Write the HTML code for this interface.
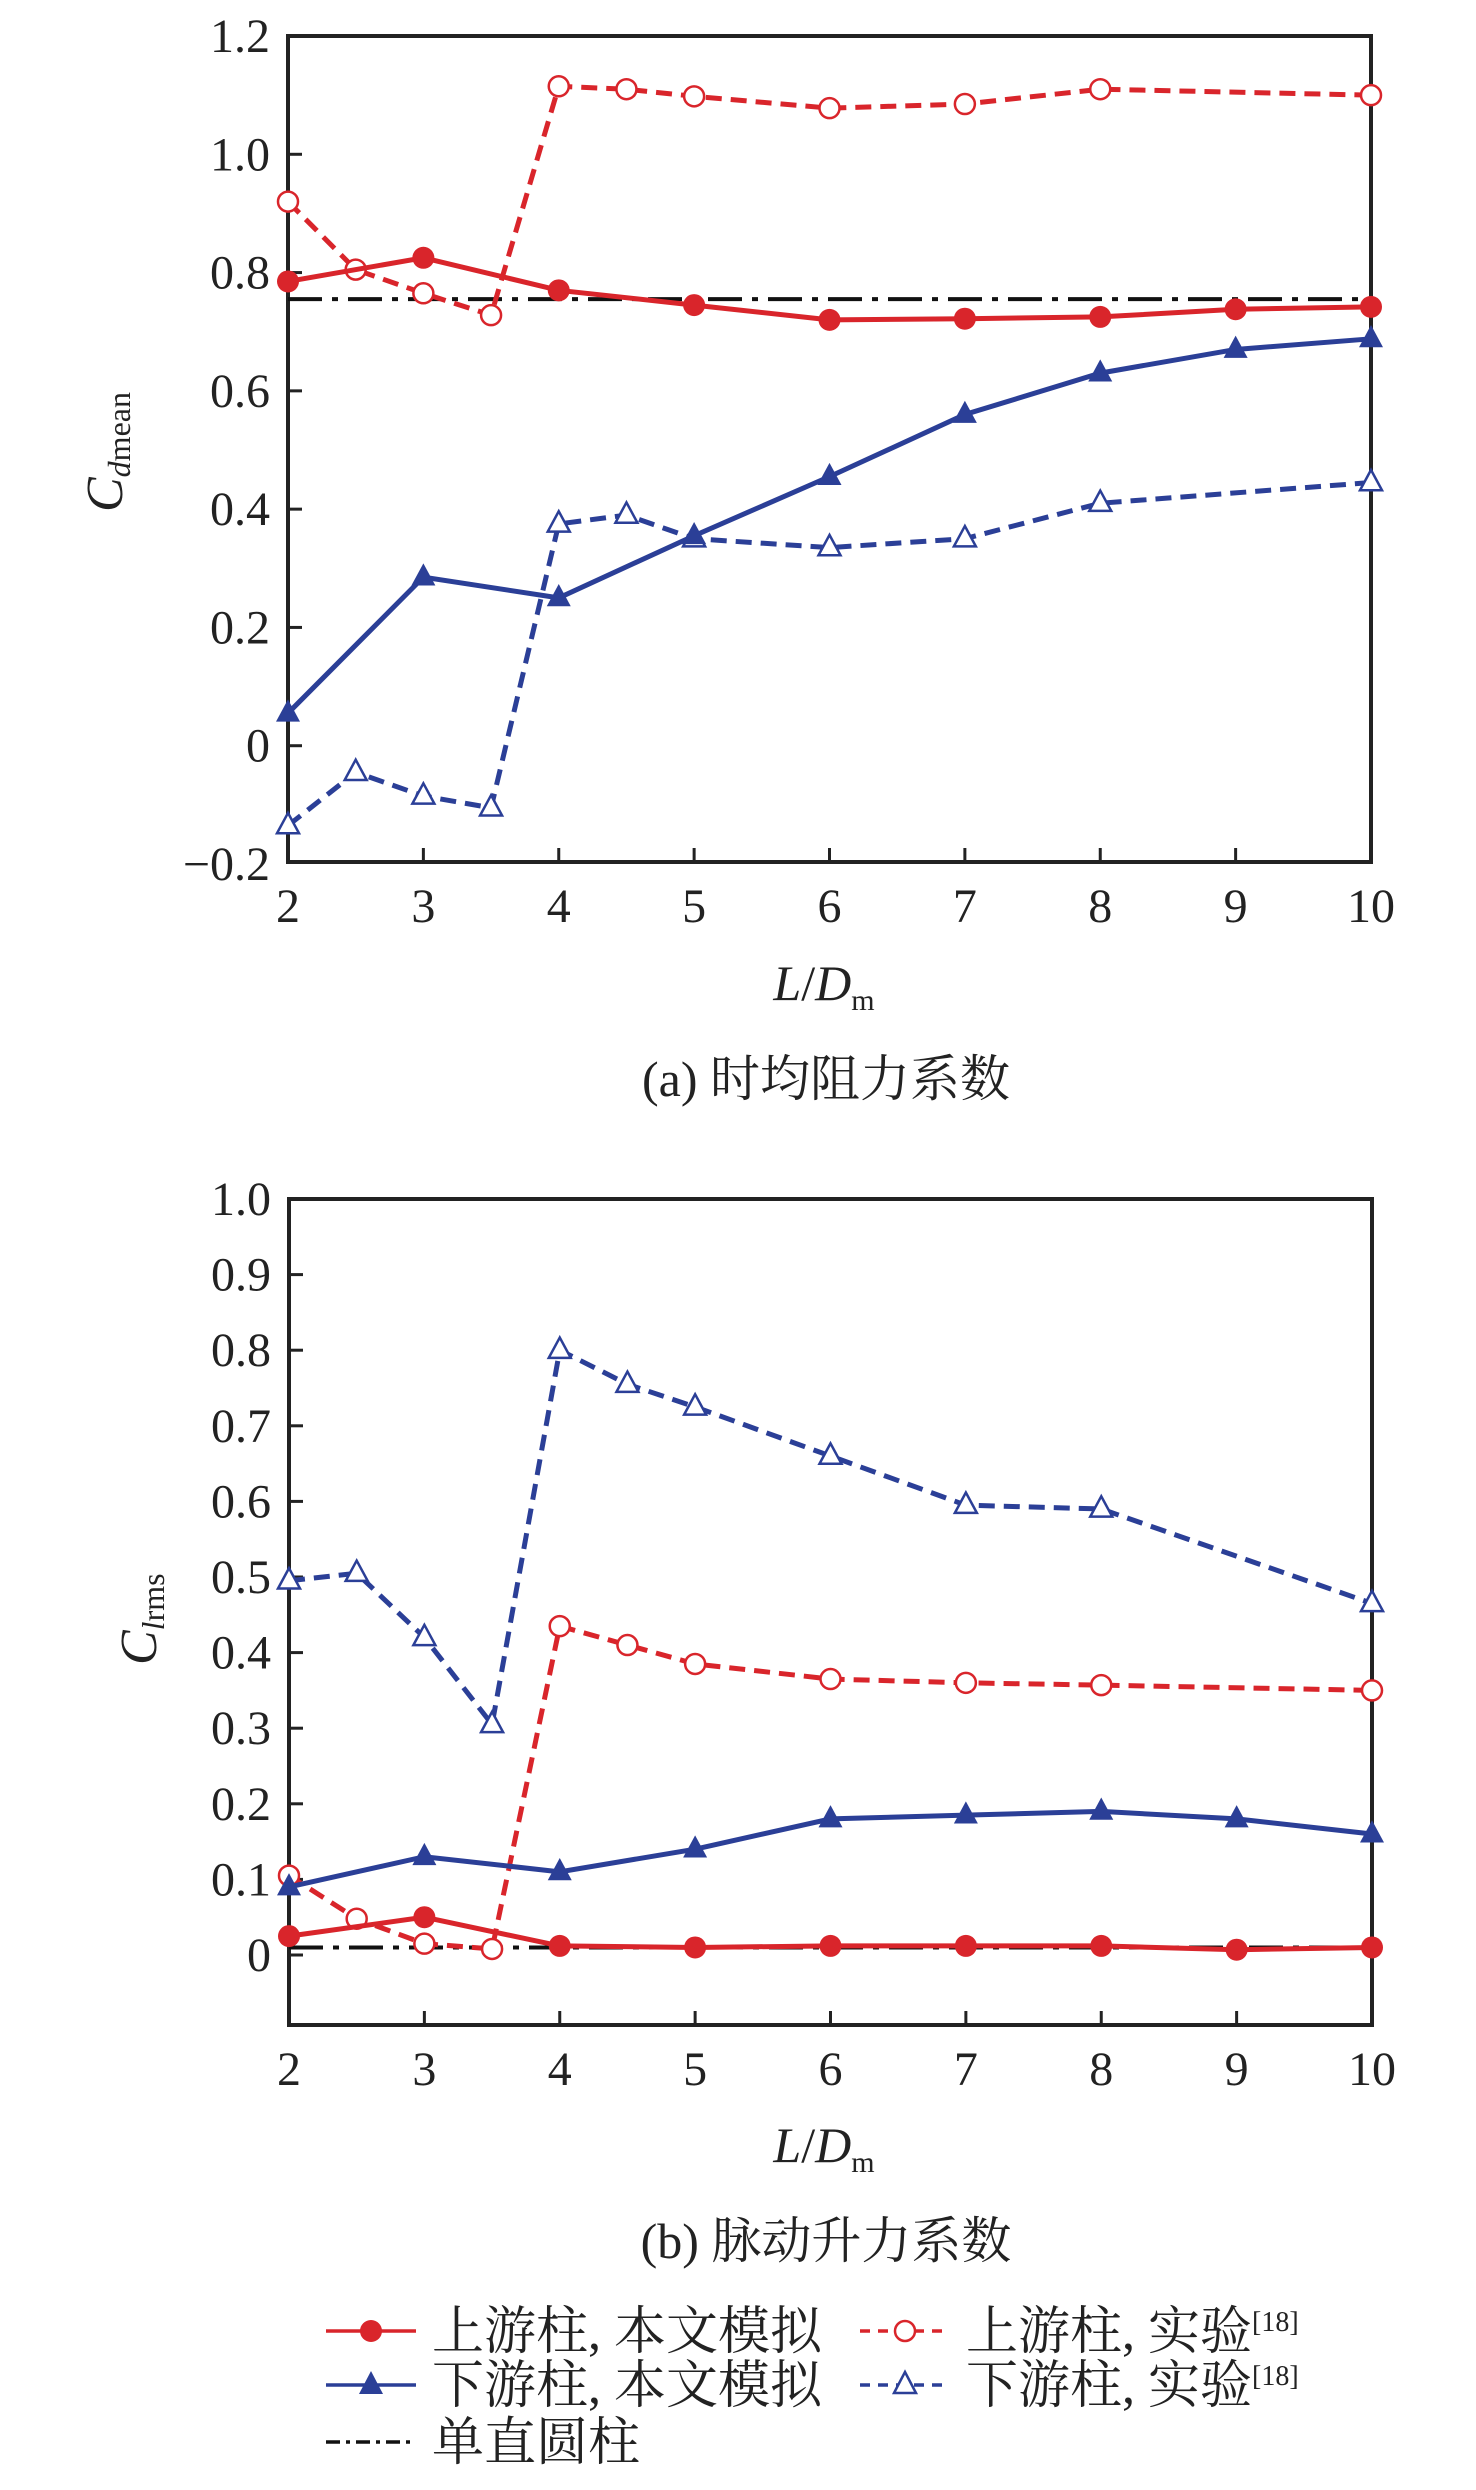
<!DOCTYPE html>
<html><head><meta charset="utf-8"><style>
html,body{margin:0;padding:0;background:#fff;}
svg{display:block;}
text{font-family:"Liberation Serif","Noto Serif CJK SC",serif;fill:#222;}
.cjk{font-family:"Liberation Serif","Noto Serif CJK SC",serif;}
</style></head><body>
<svg id="svg" width="1476" height="2490" viewBox="0 0 1476 2490" xmlns="http://www.w3.org/2000/svg">
<g id="ga"></g>
<g id="gb"></g>
<g id="legend"></g>
</svg>
<script>
const xsSim = [2,3,4,5,6,7,8,9,10];
const xsExp = [2,2.5,3,3.5,4,4.5,5,6,7,8,10];
const xTicks = [2,3,4,5,6,7,8,9,10];
// chart a
const aUpSim = [0.785,0.825,0.77,0.745,0.72,0.722,0.725,0.738,0.742];
const aUpExp = [0.92,0.805,0.765,0.728,1.115,1.11,1.098,1.078,1.085,1.11,1.10];
const aDnSim = [0.055,0.285,0.25,0.355,0.455,0.56,0.63,0.67,0.688];
const aDnExp = [-0.135,-0.045,-0.085,-0.105,0.375,0.39,0.35,0.335,0.35,0.41,0.445];
const aSingle = 0.755;
const aYTicks = [-0.2,0,0.2,0.4,0.6,0.8,1.0,1.2];
const aYLabels = ["\u22120.2","0","0.2","0.4","0.6","0.8","1.0","1.2"];
// chart b
const bUpSim = [0.025,0.05,0.012,0.01,0.012,0.012,0.012,0.007,0.01];
const bUpExp = [0.105,0.048,0.015,0.008,0.435,0.41,0.385,0.365,0.36,0.357,0.35];
const bDnSim = [0.09,0.13,0.11,0.14,0.18,0.185,0.19,0.18,0.16];
const bDnExp = [0.495,0.505,0.42,0.305,0.80,0.755,0.725,0.66,0.595,0.59,0.465];
const bSingle = 0.01;
const bYTicks = [0,0.1,0.2,0.3,0.4,0.5,0.6,0.7,0.8,0.9,1.0];
const bYLabels = ["0","0.1","0.2","0.3","0.4","0.5","0.6","0.7","0.8","0.9","1.0"];

const RED="#d9252b", BLUE="#2b3f97", NS="http://www.w3.org/2000/svg";
function mk(tag,attrs,parent){const e=document.createElementNS(NS,tag);for(const k in attrs)e.setAttribute(k,attrs[k]);parent.appendChild(e);return e;}
function tri(cx,cy,r){return `${cx},${cy-r*1.15} ${cx-r},${cy+r*0.7} ${cx+r},${cy+r*0.7}`;}

function chart(g,o){
  const X=v=>o.x0+(v-2)*(o.x1-o.x0)/8;
  const Y=v=>o.ylo+(v-o.ymin)*(o.yhi-o.ylo)/(o.ymax-o.ymin);
  const frame=mk('rect',{x:o.x0,y:o.top,width:o.x1-o.x0,height:o.yb-o.top,fill:'none',stroke:'#222','stroke-width':4},g);
  
  
  o.yt.forEach((v,i)=>{
    const y=Y(v);
    if(y>o.top+2 && y<o.yb-2){
      const t=mk('line',{x1:o.x0,x2:o.x0+14,y1:y,y2:y,stroke:'#222','stroke-width':3},g);
      
      
    }
    const l=mk('text',{x:o.x0-18,y:y+16,'text-anchor':'end','font-size':48},g);
    l.textContent=o.yl[i];
    
    
  });
  xTicks.forEach(v=>{
    const x=X(v);
    const t=mk('line',{x1:x,x2:x,y1:o.yb,y2:o.yb-14,stroke:'#222','stroke-width':3},g);
    
    
    const l=mk('text',{x:x,y:o.yb+60,'text-anchor':'middle','font-size':48},g);
    l.textContent=v;
    
    
  });
  const s=mk('line',{x1:o.x0,x2:o.x1,y1:Y(o.single),y2:Y(o.single),stroke:'#111','stroke-width':4,'stroke-dasharray':'34 10 6 10'},g);
  
  
  function series(xs,ys,col,dash,marker,name){
    const pts=xs.map((x,i)=>X(x)+','+Y(ys[i])).join(' ');
    const pl=mk('polyline',{points:pts,fill:'none',stroke:col,'stroke-width':5,'stroke-dasharray':dash||'none'},g);
    
    
    xs.forEach((x,i)=>{
      let m;
      const cx=X(x),cy=Y(ys[i]);
      if(marker==='dot')m=mk('circle',{cx:cx,cy:cy,r:11,fill:col},g);
      else if(marker==='ring')m=mk('circle',{cx:cx,cy:cy,r:10,fill:'#fff',stroke:col,'stroke-width':2.5},g);
      else if(marker==='tri')m=mk('polygon',{points:tri(cx,cy,12),fill:col},g);
      else m=mk('polygon',{points:tri(cx,cy,11),fill:'#fff',stroke:col,'stroke-width':2.5},g);
      
      
    });
  }
  series(xsExp,o.upExp,RED,'16 9','ring','upstream-experiment');
  series(xsExp,o.dnExp,BLUE,'16 9','otri','downstream-experiment');
  series(xsSim,o.upSim,RED,null,'dot','upstream-simulation');
  series(xsSim,o.dnSim,BLUE,null,'tri','downstream-simulation');
}

chart(document.getElementById('ga'),{x0:288,x1:1371,ymin:-0.2,ymax:1.2,ylo:864,yhi:36,top:36,yb:862,
  yt:aYTicks,yl:aYLabels,single:aSingle,upSim:aUpSim,upExp:aUpExp,dnSim:aDnSim,dnExp:aDnExp});
chart(document.getElementById('gb'),{x0:289,x1:1372,ymin:0,ymax:1,ylo:1955,yhi:1199,top:1199,yb:2025,
  yt:bYTicks,yl:bYLabels,single:bSingle,upSim:bUpSim,upExp:bUpExp,dnSim:bDnSim,dnExp:bDnExp});
</script>
<script>
(function(){
const svg=document.getElementById('svg');
function t(html,attrs,name){const e=document.createElementNS("http://www.w3.org/2000/svg",'text');for(const k in attrs)e.setAttribute(k,attrs[k]);e.innerHTML=html;svg.appendChild(e);

return e;}
t('<tspan font-style="italic">L</tspan>/<tspan font-style="italic">D</tspan><tspan font-size="30" dy="10">m</tspan>',{x:824,y:1000,'text-anchor':'middle','font-size':50},'x-axis-title-a');
t('(a) <tspan class="cjk">时均阻力系数</tspan>',{x:826,y:1096,'text-anchor':'middle','font-size':50},'caption-a');
t('<tspan font-style="italic">C</tspan><tspan font-size="32" dy="8"><tspan font-style="italic">d</tspan>mean</tspan>',{x:0,y:0,'font-size':52,transform:'translate(122,512) rotate(-90)'},'y-axis-title-a');
t('<tspan font-style="italic">L</tspan>/<tspan font-style="italic">D</tspan><tspan font-size="30" dy="10">m</tspan>',{x:824,y:2162,'text-anchor':'middle','font-size':50},'x-axis-title-b');
t('(b) <tspan class="cjk">脉动升力系数</tspan>',{x:826,y:2258,'text-anchor':'middle','font-size':50},'caption-b');
t('<tspan font-style="italic">C</tspan><tspan font-size="32" dy="8"><tspan font-style="italic">l</tspan>rms</tspan>',{x:0,y:0,'font-size':52,transform:'translate(156,1665) rotate(-90)'},'y-axis-title-b');
const lg=document.getElementById('legend');
const NS="http://www.w3.org/2000/svg";
function mk(tag,a){const e=document.createElementNS(NS,tag);for(const k in a)e.setAttribute(k,a[k]);lg.appendChild(e);return e;}
const rows=[
 {x:326,y:2331,col:'#d9252b',dash:'none',m:'dot',txt:'上游柱, 本文模拟',name:'legend-upstream-simulation'},
 {x:326,y:2385,col:'#2b3f97',dash:'none',m:'tri',txt:'下游柱, 本文模拟',name:'legend-downstream-simulation'},
 {x:326,y:2442,col:'#111',dash:'14 6 4 6',m:null,txt:'单直圆柱',name:'legend-single-cylinder'},
 {x:860,y:2331,col:'#d9252b',dash:'10 8',m:'ring',txt:'上游柱, 实验<tspan font-size="28" dy="-18">[18]</tspan>',name:'legend-upstream-experiment'},
 {x:860,y:2385,col:'#2b3f97',dash:'10 8',m:'otri',txt:'下游柱, 实验<tspan font-size="28" dy="-18">[18]</tspan>',name:'legend-downstream-experiment'}];
rows.forEach(r=>{
 const l=mk('line',{x1:r.x,x2:r.x+90,y1:r.y,y2:r.y,stroke:r.col,'stroke-width':3.5,'stroke-dasharray':r.dash});
 
 
 const cx=r.x+45,cy=r.y;let m=null;
 if(r.m==='dot')m=mk('circle',{cx:cx,cy:cy,r:11,fill:r.col});
 if(r.m==='ring')m=mk('circle',{cx:cx,cy:cy,r:10,fill:'#fff',stroke:r.col,'stroke-width':2.5});
 if(r.m==='tri')m=mk('polygon',{points:`${cx},${cy-14} ${cx-12},${cy+9} ${cx+12},${cy+9}`,fill:r.col});
 if(r.m==='otri')m=mk('polygon',{points:`${cx},${cy-13} ${cx-11},${cy+8} ${cx+11},${cy+8}`,fill:'#fff',stroke:r.col,'stroke-width':2.5});
 if(m){
 }
 const tx=mk('text',{x:r.x+106,y:r.y+18,'font-size':52,'class':'cjk'});
 tx.innerHTML=r.txt;
 
 
});
})();
</script>
</body></html>
